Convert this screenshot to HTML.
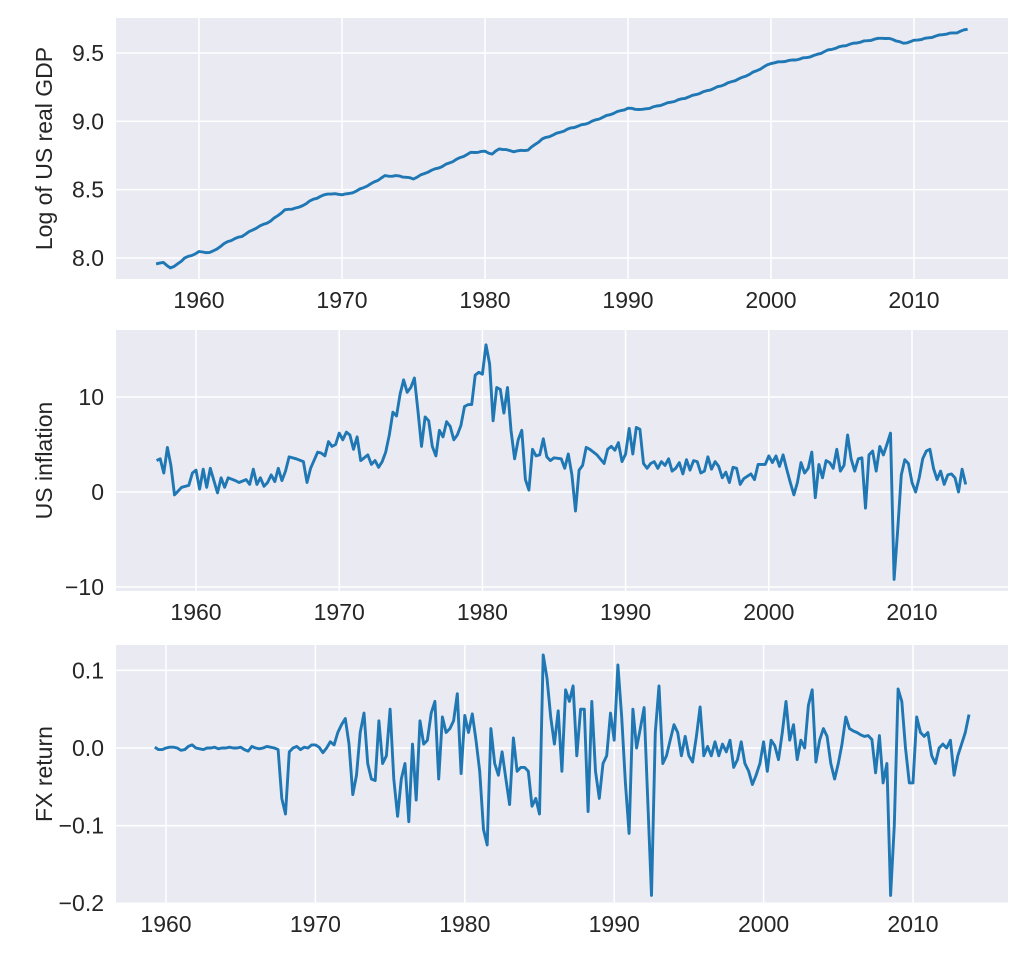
<!DOCTYPE html>
<html><head><meta charset="utf-8"><style>
body{margin:0;background:#fff;}
svg text{font-family:"Liberation Sans",Arial,sans-serif;fill:#262626;font-size:23px;}
</style></head><body>
<svg id="s" width="1027" height="958" xmlns="http://www.w3.org/2000/svg"></svg>
<script>
const S=document.getElementById('s');let h='';
function panel(cfg){
 const {top,bot,x0,pxYr,ylab,yfun,ticksY,ticksX,data,fmt}=cfg;
 const L=116,R=1008;
 h+=`<rect x="${L}" y="${top}" width="${R-L}" height="${bot-top}" fill="#eaeaf2"/>`;
 ticksY.forEach(v=>{const y=yfun(v);h+=`<line x1="${L}" x2="${R}" y1="${y}" y2="${y}" stroke="#fff" stroke-width="1.5"/><text x="104" y="${y+8}" text-anchor="end">${fmt(v)}</text>`;});
 ticksX.forEach(t=>{const x=x0+(t-1960)*pxYr;h+=`<line x1="${x}" x2="${x}" y1="${top}" y2="${bot}" stroke="#fff" stroke-width="1.5"/><text x="${x}" y="${bot+29}" text-anchor="middle">${t}</text>`;});
 let d='';
 for(let i=0;i<data.length;i+=2){const x=x0+(data[i]-1960)*pxYr,y=yfun(data[i+1]);d+=(i?'L':'M')+x.toFixed(1)+' '+y.toFixed(1);}
 h+=`<path d="${d}" fill="none" stroke="#1f77b4" stroke-width="2.9" stroke-linejoin="round"/>`;
 const cy=(top+bot)/2;
 h+=`<text transform="translate(52 ${cy}) rotate(-90)" text-anchor="middle">${ylab}</text>`;
}
function interp(k){const o=[];for(let t=k[0];t<=k[k.length-2]+1e-6;t+=0.25){let i=0;while(i<k.length-4&&k[i+2]<t)i+=2;const a=k[i],b=k[i+2],va=k[i+1],vb=k[i+3];const f=b>a?(t-a)/(b-a):0;o.push(t,va+(vb-va)*f+Math.sin(t*7.3)*0.003);}return o;}
const gdpK=[1957,7.96,1957.5,7.965,1958,7.93,1958.25,7.935,1959,8.0,1959.5,8.02,1960,8.045,1960.75,8.04,1961,8.05,1962,8.12,1963,8.16,1964,8.22,1965,8.27,1966,8.35,1967,8.37,1968,8.43,1969,8.47,1970,8.465,1970.5,8.47,1971,8.49,1972,8.54,1973,8.60,1974,8.60,1975,8.58,1976,8.63,1977,8.67,1978,8.72,1979,8.77,1980,8.78,1980.5,8.76,1981,8.80,1982,8.78,1983,8.79,1984,8.87,1985,8.91,1986,8.95,1987,8.98,1988,9.02,1989,9.06,1990,9.095,1991,9.085,1992,9.11,1993,9.14,1994,9.17,1995,9.205,1996,9.24,1997,9.28,1998,9.32,1999,9.37,2000,9.425,2001,9.44,2002,9.455,2003,9.48,2004,9.52,2005,9.55,2006,9.575,2007,9.595,2007.75,9.61,2008.5,9.6,2009.25,9.57,2010,9.59,2011,9.61,2012,9.635,2013,9.65,2013.75,9.675];
panel({top:18,bot:279,x0:199,pxYr:14.3,ylab:'Log of US real GDP',yfun:v=>258-(v-8)*136.7,ticksY:[8,8.5,9,9.5],ticksX:[1960,1970,1980,1990,2000,2010],data:interp(gdpK),fmt:v=>v.toFixed(1)});
const inf=[1957.25,3.3,1957.5,3.5,1957.75,2,1958,4.7,1958.25,2.8,1958.5,-0.3,1959,0.5,1959.5,0.7,1959.75,2,1960,2.3,1960.25,0.3,1960.5,2.4,1960.75,0.5,1961,2.5,1961.5,-0.1,1961.75,1.5,1962,0.5,1962.25,1.5,1962.75,1.2,1963,1,1963.5,1.3,1963.75,0.8,1964,2.4,1964.25,0.8,1964.5,1.5,1964.75,0.6,1965,1,1965.25,1.8,1965.5,1.1,1965.75,2.5,1966,1.2,1966.25,2.2,1966.5,3.7,1967,3.5,1967.5,3.2,1967.75,1,1968,2.5,1968.5,4.2,1968.75,4.1,1969,3.8,1969.25,5.3,1969.5,4.8,1969.75,5,1970,6.2,1970.25,5.5,1970.5,6.3,1970.75,6,1971,4.5,1971.25,5.8,1971.5,3.3,1971.75,3.6,1972,3.9,1972.25,2.9,1972.5,3.3,1972.75,2.6,1973,3.2,1973.25,4.2,1973.5,6,1973.75,8.4,1974,8,1974.25,10.3,1974.5,11.8,1974.75,10.5,1975,11,1975.25,12,1975.5,8.5,1975.75,4.8,1976,7.9,1976.25,7.5,1976.5,4.8,1976.75,3.8,1977,6.5,1977.25,5.8,1977.5,7.4,1977.75,6.9,1978,5.5,1978.25,6,1978.5,7,1978.75,9,1979,9.2,1979.25,9.2,1979.5,12.3,1979.75,12.6,1980,12.4,1980.25,15.5,1980.5,13.5,1980.75,7.5,1981,11,1981.25,10.8,1981.5,8.3,1981.75,11,1982,6.5,1982.25,3.5,1982.5,5.5,1982.75,6.5,1983,1.3,1983.25,0.2,1983.5,4.5,1983.75,3.8,1984,3.9,1984.25,5.6,1984.5,3.7,1984.75,3.3,1985,3.6,1985.5,3.5,1985.75,2.5,1986,4,1986.25,1.8,1986.5,-2,1986.75,2.3,1987,2.8,1987.25,4.7,1987.5,4.5,1988,3.9,1988.5,3,1988.75,4.5,1989,4.8,1989.25,4.4,1989.5,5.2,1989.75,3.2,1990,4,1990.25,6.7,1990.5,4,1990.75,6.8,1991,6.6,1991.25,3,1991.5,2.5,1991.75,3,1992,3.2,1992.25,2.5,1992.5,3.2,1992.75,2.8,1993,3.5,1993.25,2.2,1993.5,2.5,1993.75,3.1,1994,1.9,1994.25,3.4,1994.5,2.3,1994.75,3.3,1995,3.2,1995.25,2,1995.5,2.2,1995.75,3.7,1996,2.4,1996.25,3.2,1996.5,2.7,1996.75,1.5,1997,2.1,1997.25,1,1997.5,2.6,1997.75,2.5,1998,0.8,1998.25,1.4,1998.75,1.9,1999,1.3,1999.25,2.9,1999.75,2.9,2000,3.8,2000.25,3.1,2000.5,3.8,2000.75,2.7,2001,3.9,2001.25,2.4,2001.5,1,2001.75,-0.3,2002,1,2002.25,3.1,2002.5,2,2002.75,2.5,2003,4.2,2003.25,-0.6,2003.5,2.9,2003.75,1.5,2004,3.3,2004.25,3.1,2004.5,2.5,2004.75,4.5,2005,2.2,2005.25,2.8,2005.5,6,2005.75,3.5,2006,2.2,2006.25,3.5,2006.5,3.6,2006.75,-1.7,2007,3.9,2007.25,4.3,2007.5,2.2,2007.75,4.8,2008,3.9,2008.25,5,2008.5,6.2,2008.75,-9.2,2009,-4,2009.25,1.8,2009.5,3.4,2009.75,3,2010,1,2010.25,0,2010.5,1.5,2010.75,3.5,2011,4.3,2011.25,4.5,2011.5,2.5,2011.75,1.3,2012,2.2,2012.25,0.8,2012.5,1.8,2012.75,1.9,2013,1.5,2013.25,0,2013.5,2.4,2013.75,0.8];
panel({top:330,bot:591,x0:196,pxYr:14.32,ylab:'US inflation',yfun:v=>492-v*9.5,ticksY:[-10,0,10],ticksX:[1960,1970,1980,1990,2000,2010],data:inf,fmt:v=>v<0?'\u2212'+(-v):String(v)});
const early=[0.001,-0.002,-0.002,0,0.001,0.001,0,-0.003,-0.002,0.002,0.004,0,-0.001,-0.002,0,0,0.001,-0.001,0,0,0.001,0,0,0.001,-0.002,-0.004,0.002,0,-0.001,0,0.002,0.001,0,-0.001];
const fx2=[];
for(let i=0;i<early.length;i++){const t=1959.25+i*0.25;if(t<1967.5)fx2.push(t,early[i]);}
fx2.push(1967.5,-0.002,1967.75,-0.065,1968,-0.085,1968.25,-0.005,1968.5,0,1968.75,0.002,1969,-0.002,1969.25,0.001,1969.5,0,1969.75,0.004,1970,0.004,1970.25,0.001,1970.5,-0.006,1970.75,0,1971,0.008,1971.25,0.004,1971.5,0.02,1971.75,0.03,1972,0.038,1972.25,0.005,1972.5,-0.06,1972.75,-0.035,1973,0.02,1973.25,0.045,1973.5,-0.02,1973.75,-0.04,1974,-0.042,1974.25,0.035,1974.5,-0.02,1974.75,-0.01,1975,0.05,1975.25,-0.04,1975.5,-0.088,1975.75,-0.04,1976,-0.02,1976.25,-0.095,1976.5,0.005,1976.75,-0.067,1977,0.035,1977.25,0.005,1977.5,0.01,1977.75,0.045,1978,0.06,1978.25,-0.04,1978.5,0.04,1978.75,0.02,1979,0.025,1979.25,0.035,1979.5,0.07,1979.75,-0.033,1980,0.042,1980.25,0.02,1980.5,0.044,1980.75,0.01,1981,-0.03,1981.25,-0.105,1981.5,-0.125,1981.75,0.025,1982,-0.02,1982.25,-0.035,1982.5,-0.005,1982.75,-0.04,1983,-0.073,1983.25,0.013,1983.5,-0.03,1983.75,-0.025,1984,-0.025,1984.25,-0.03,1984.5,-0.075,1984.75,-0.065,1985,-0.085,1985.25,0.12,1985.5,0.09,1985.75,0.04,1986,0.005,1986.25,0.048,1986.5,-0.03,1986.75,0.075,1987,0.06,1987.25,0.08,1987.5,-0.01,1987.75,0.05,1988,0.05,1988.25,-0.082,1988.5,0.06,1988.75,-0.03,1989,-0.065,1989.25,-0.02,1989.5,-0.01,1989.75,0.045,1990,0.01,1990.25,0.107,1990.5,0.04,1990.75,-0.045,1991,-0.11,1991.25,0.05,1991.5,0,1991.75,0.025,1992,0.052,1992.5,-0.19,1992.75,0.02,1993,0.08,1993.25,-0.02,1993.5,-0.01,1993.75,0.01,1994,0.03,1994.25,0.02,1994.5,-0.01,1994.75,0.015,1995,-0.01,1995.25,-0.018,1995.5,0.015,1995.75,0.053,1996,-0.01,1996.25,0.002,1996.5,-0.01,1996.75,0.008,1997,-0.01,1997.25,0.005,1997.5,-0.005,1997.75,0.01,1998,-0.025,1998.25,-0.015,1998.5,0.008,1998.75,-0.02,1999,-0.03,1999.25,-0.047,1999.5,-0.035,1999.75,-0.02,2000,0.008,2000.25,-0.03,2000.5,0.01,2000.75,0.003,2001,-0.015,2001.25,0.02,2001.5,0.06,2001.75,0.01,2002,0.03,2002.25,-0.015,2002.5,0.01,2002.75,0,2003,0.055,2003.25,0.075,2003.5,-0.018,2003.75,0.01,2004,0.025,2004.25,0.015,2004.5,-0.02,2004.75,-0.04,2005,-0.02,2005.25,0.005,2005.5,0.04,2005.75,0.025,2006,0.022,2006.25,0.02,2006.5,0.017,2006.75,0.015,2007,0.016,2007.25,0.011,2007.5,-0.032,2007.75,0.016,2008,-0.045,2008.25,-0.02,2008.5,-0.19,2008.75,-0.1,2009,0.076,2009.25,0.06,2009.5,0.0,2009.75,-0.045,2010,-0.045,2010.25,0.04,2010.5,0.02,2010.75,0.015,2011,0.02,2011.25,-0.01,2011.5,-0.02,2011.75,0.0,2012,0.005,2012.25,0,2012.5,0.01,2012.75,-0.035,2013,-0.01,2013.25,0.005,2013.5,0.02,2013.75,0.043);
panel({top:645,bot:903,x0:166,pxYr:14.94,ylab:'FX return',yfun:v=>748-v*776,ticksY:[-0.2,-0.1,0,0.1],ticksX:[1960,1970,1980,1990,2000,2010],data:fx2,fmt:v=>v<0?'\u2212'+(-v).toFixed(1):v.toFixed(1)});
S.innerHTML=h;
</script>
</body></html>
